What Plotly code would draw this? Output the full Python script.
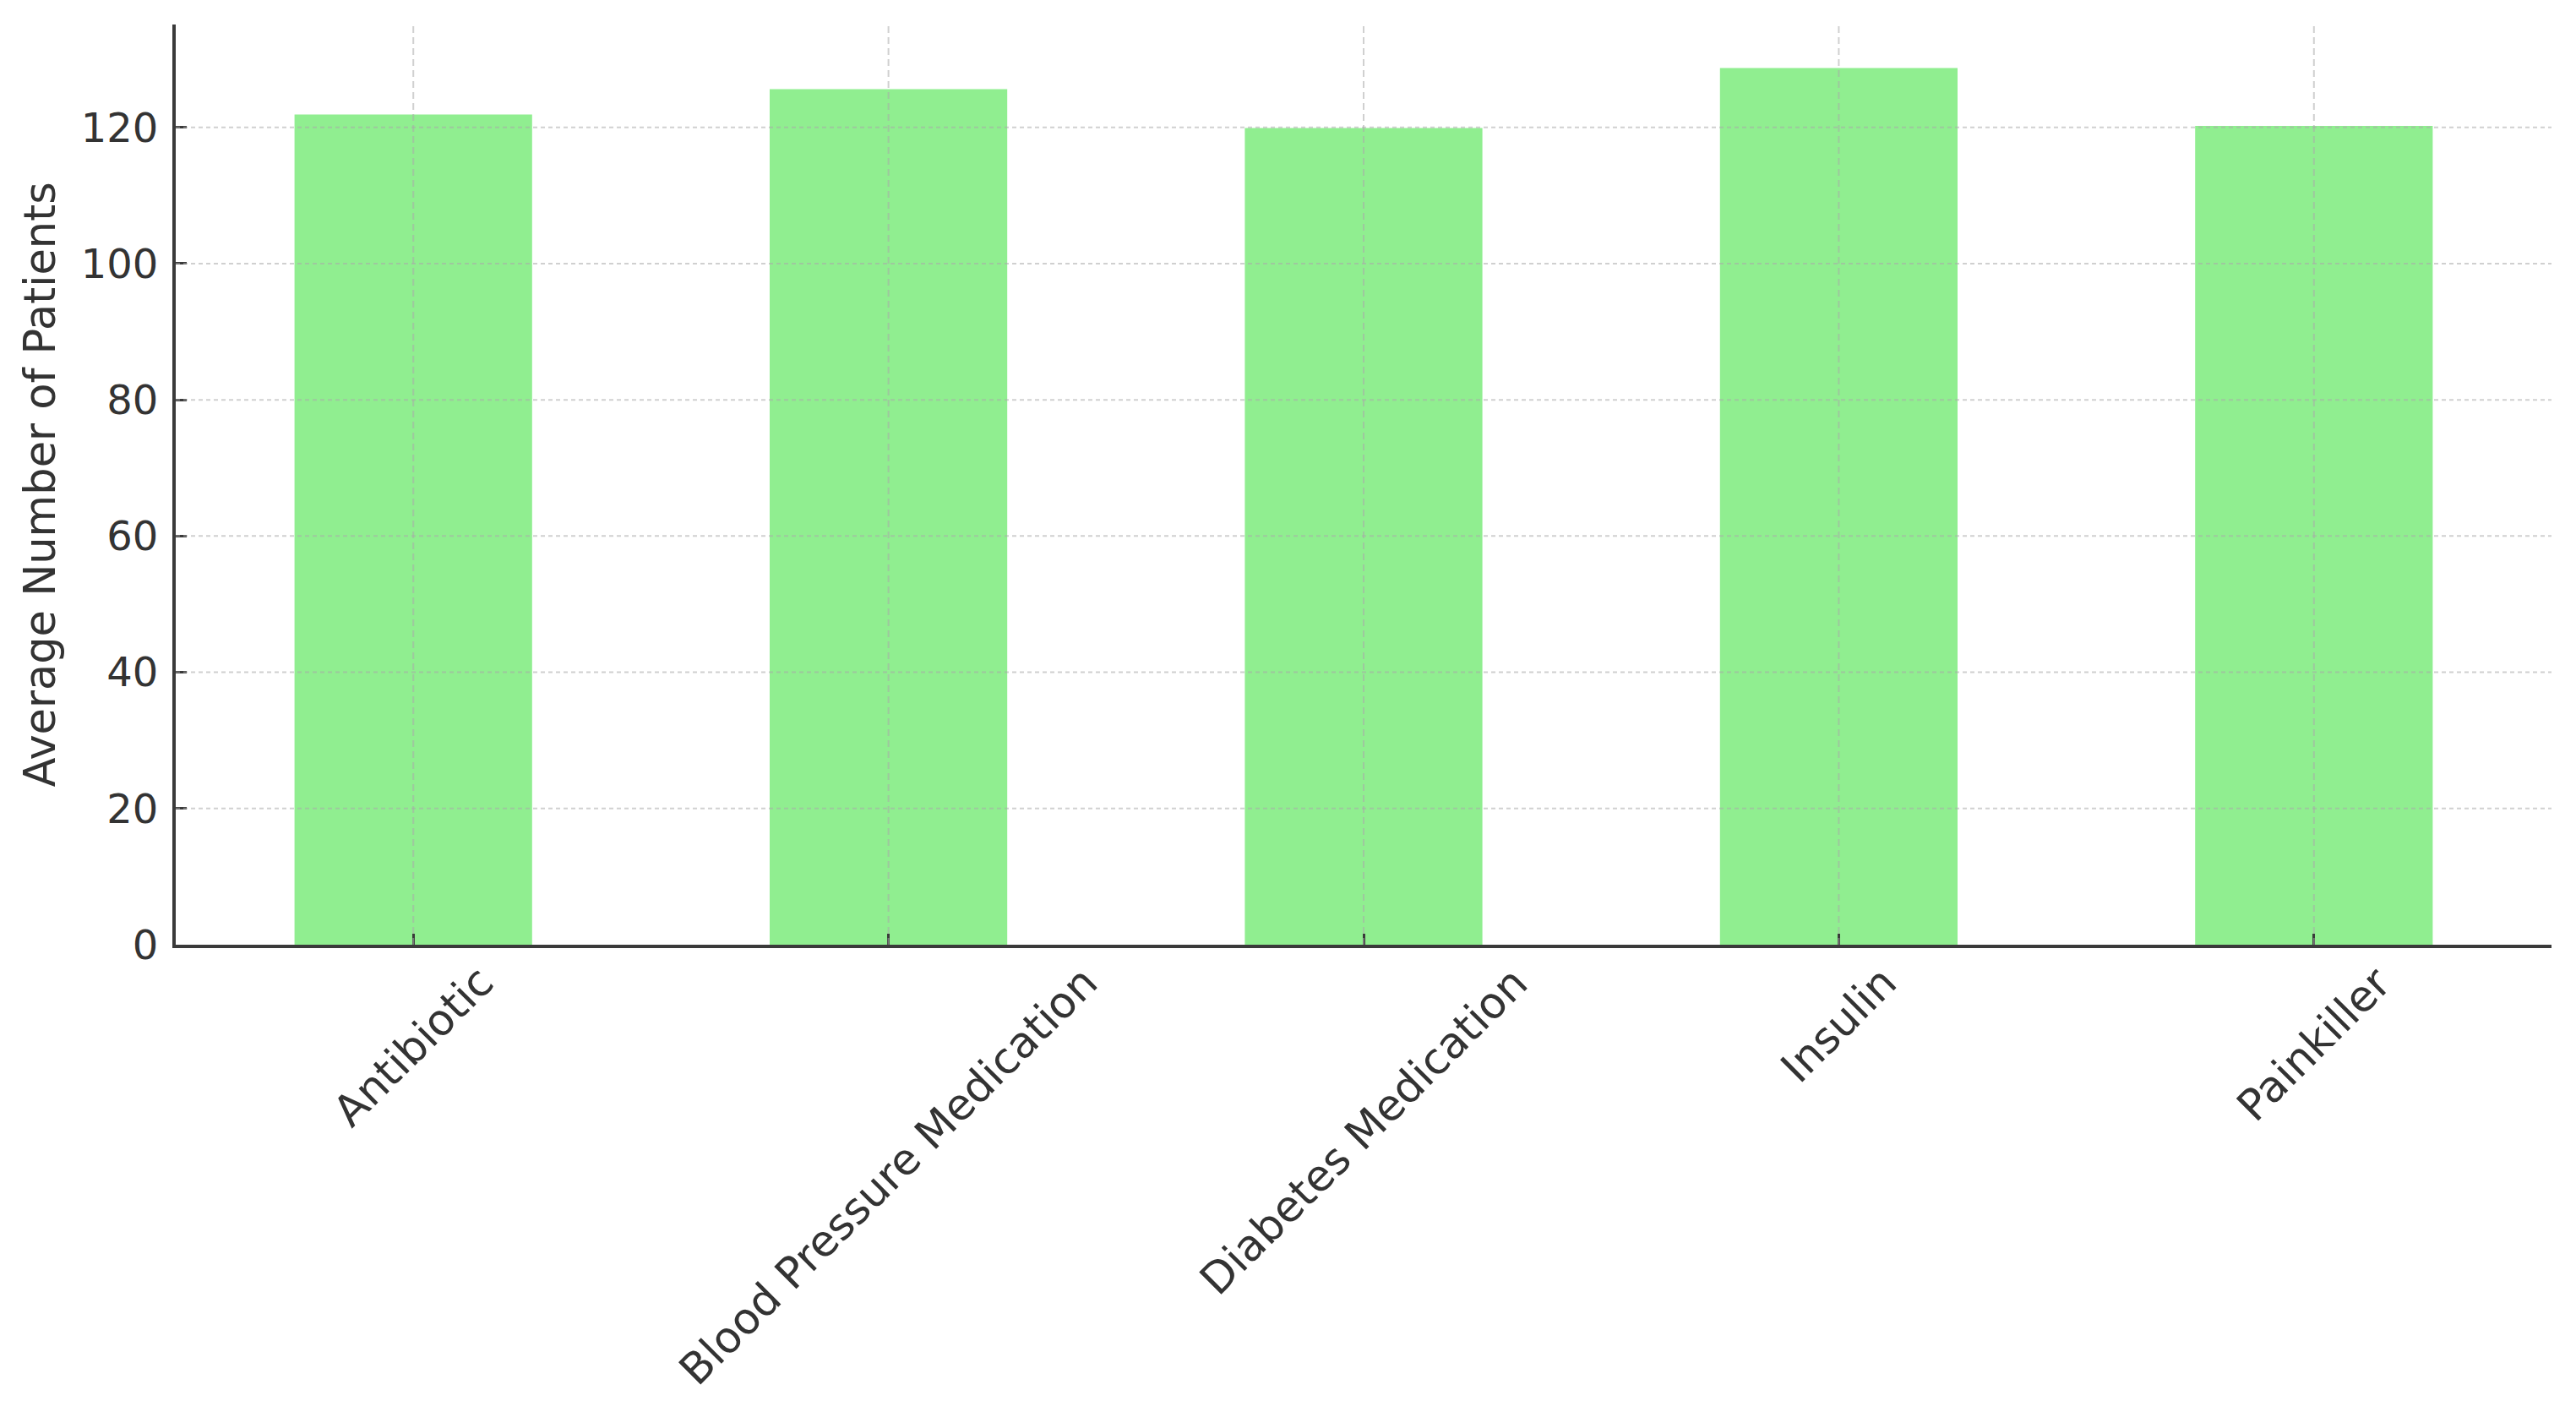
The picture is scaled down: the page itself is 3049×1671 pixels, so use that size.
import plotly.graph_objects as go

categories = ["Antibiotic", "Blood Pressure Medication", "Diabetes Medication", "Insulin", "Painkiller"]
avg_patients = [121.9, 125.6, 119.9, 128.7, 120.2]
y_ticks = [0, 20, 40, 60, 80, 100, 120]

W, H = 3049, 1671
FONT = "DejaVu Sans"
TXT = "#333333"
AX = "#3a3a3a"
GRID = "rgba(170,170,170,0.55)"
FS = 51
TICK_FS = 48
PAGE_OFFSET = 8  # browser default body margin

fig = go.Figure()
fig.add_trace(go.Bar(x=categories, y=avg_patients, marker=dict(color="#90EE90", line=dict(width=0)), width=0.5))

# grid lines drawn above bars (as in reference)
for v in y_ticks[1:]:
    fig.add_shape(type="line", xref="paper", yref="y", x0=0, x1=1, y0=v, y1=v,
                  line=dict(color=GRID, width=2, dash="5px,4px"), layer="above")
for c in categories:
    fig.add_shape(type="line", xref="x", yref="paper", x0=c, x1=c, y0=0, y1=1,
                  line=dict(color=GRID, width=2, dash="8px,5px"), layer="above")

# rotated category labels centred under ticks
for c in categories:
    fig.add_annotation(x=c, xref="x", y=0, yref="paper", text=c, textangle=-45,
                       showarrow=False, xanchor="center", yanchor="top", yshift=-12,
                       font=dict(family=FONT, size=FS, color=TXT))

fig.add_annotation(x=0, xref="paper", y=0.5, yref="paper", text="Average Number of Patients",
                   textangle=-90, showarrow=False, xanchor="center", yanchor="middle", xshift=-161,
                   font=dict(family=FONT, size=FS, color=TXT))

fig.update_layout(
    width=W, height=H,
    margin=dict(l=208 - PAGE_OFFSET, r=29 + PAGE_OFFSET, t=29 - PAGE_OFFSET, b=553 + PAGE_OFFSET),
    paper_bgcolor="white", plot_bgcolor="white",
    showlegend=False,
    font=dict(family=FONT, size=FS, color=TXT),
)
fig.update_xaxes(range=[-0.5, 4.5], showticklabels=False, showgrid=False,
                 showline=True, linecolor=AX, linewidth=4,
                 ticks="inside", ticklen=13, tickwidth=3, tickcolor=AX, zeroline=False)
fig.update_yaxes(range=[0, 135.1], tickvals=y_ticks, showgrid=False,
                 showline=True, linecolor=AX, linewidth=4,
                 ticks="inside", ticklen=13, tickwidth=3, tickcolor=AX, zeroline=False,
                 tickfont=dict(family=FONT, size=TICK_FS, color=TXT), ticklabelstandoff=7)

fig.write_html("out.html")
